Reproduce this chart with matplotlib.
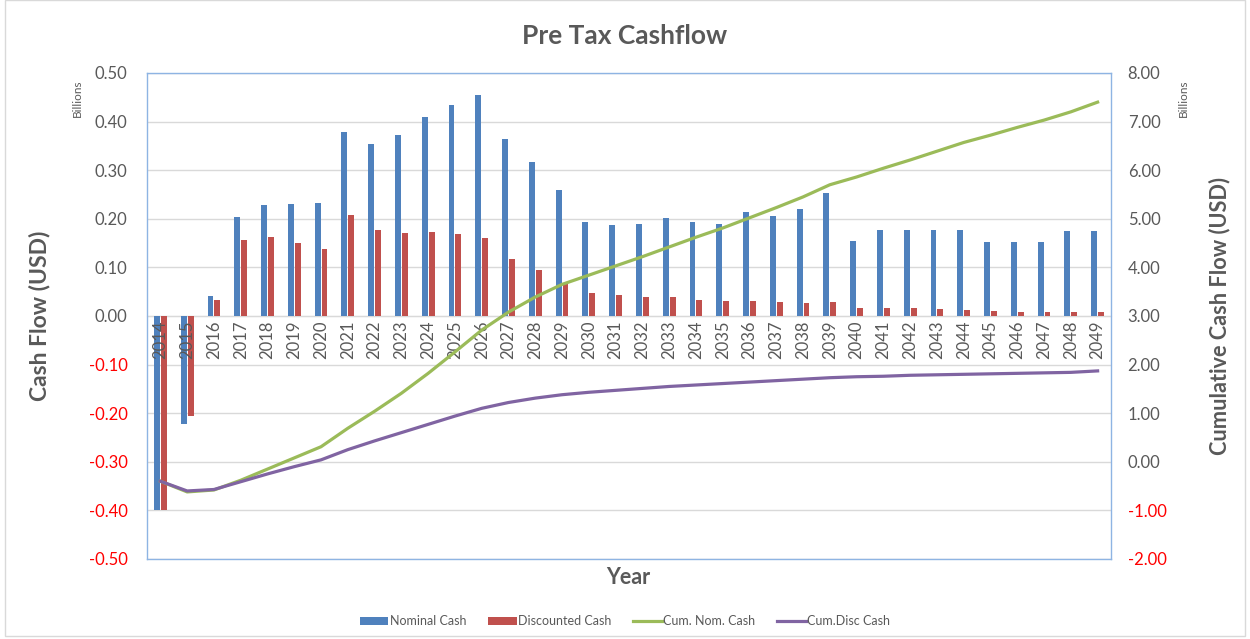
import numpy as np
import matplotlib
matplotlib.use("Agg")
import matplotlib.pyplot as plt
from matplotlib.patches import Rectangle

plt.rcParams['font.family'] = ['Lato', 'DejaVu Sans']

# data (billions USD)
years = [str(y) for y in range(2014, 2050)]
nominal = [-0.40, -0.222, 0.041, 0.204, 0.228, 0.230, 0.232, 0.379, 0.354, 0.372,
           0.409, 0.434, 0.455, 0.364, 0.317, 0.259, 0.193, 0.187, 0.189, 0.202,
           0.193, 0.189, 0.214, 0.206, 0.220, 0.253, 0.154, 0.177, 0.177, 0.177,
           0.177, 0.152, 0.152, 0.152, 0.175, 0.175]
discounted = [-0.40, -0.205, 0.033, 0.156, 0.163, 0.150, 0.138, 0.208, 0.177, 0.171,
              0.173, 0.169, 0.160, 0.117, 0.095, 0.068, 0.047, 0.043, 0.039, 0.039,
              0.033, 0.031, 0.031, 0.029, 0.027, 0.029, 0.016, 0.016, 0.016, 0.014,
              0.012, 0.010, 0.008, 0.008, 0.008, 0.008]
cum_nom = [-0.40, -0.62, -0.58, -0.38, -0.15, 0.08, 0.31, 0.69, 1.04, 1.41,
           1.82, 2.26, 2.71, 3.08, 3.39, 3.65, 3.84, 4.03, 4.22, 4.42,
           4.62, 4.81, 5.02, 5.23, 5.45, 5.70, 5.86, 6.04, 6.21, 6.39,
           6.57, 6.72, 6.88, 7.03, 7.20, 7.40]
cum_disc = [-0.40, -0.60, -0.57, -0.41, -0.25, -0.10, 0.04, 0.25, 0.43, 0.60,
            0.77, 0.94, 1.10, 1.22, 1.31, 1.38, 1.43, 1.47, 1.51, 1.55,
            1.58, 1.61, 1.64, 1.67, 1.70, 1.73, 1.75, 1.76, 1.78, 1.79,
            1.80, 1.81, 1.82, 1.83, 1.84, 1.87]
left_ticks = [-0.5, -0.4, -0.3, -0.2, -0.1, 0.0, 0.1, 0.2, 0.3, 0.4, 0.5]
right_ticks = [-2, -1, 0, 1, 2, 3, 4, 5, 6, 7, 8]

grey = '#595959'
blue, red, green, purple = '#4F81BD', '#C0504D', '#9BBB59', '#8064A2'
frame = '#8EB4E3'

fig = plt.figure(figsize=(12.5, 6.39), dpi=100)
fig.patches.append(Rectangle((0.004, 0.004), 0.992, 0.996, transform=fig.transFigure,
                             fill=False, edgecolor='#D9D9D9', lw=1))
ax = fig.add_axes([0.1176, 0.1252, 0.7712, 0.7606])
x = np.arange(len(years))
w = 0.22
ax.bar(x - 0.13, nominal, w, color=blue, label='Nominal Cash', zorder=2)
ax.bar(x + 0.13, discounted, w, color=red, label='Discounted Cash', zorder=2)
ax.set_xlim(-0.5, len(years) - 0.5)
ax.set_ylim(-0.5, 0.5)
ax.set_yticks(left_ticks)
ax.set_yticklabels(['%.2f' % v for v in left_ticks])
ax.grid(axis='y', color='#D9D9D9', lw=1, zorder=0)
ax.set_axisbelow(True)
ax.xaxis.set_zorder(4)  # year labels sit on top of the bars
ax.set_xticks(x)
ax.set_xticklabels(years)
ax.spines['bottom'].set_position(('data', 0))
ax.spines['bottom'].set_color('#D9D9D9')
ax.spines['bottom'].set_zorder(1)
for s in ['top', 'left', 'right']:
    ax.spines[s].set_visible(False)
ax.tick_params(axis='x', length=0, pad=3, labelsize=12, labelcolor=grey,
               labelrotation=90)
ax.tick_params(axis='y', length=0, pad=14, labelsize=12, labelcolor=grey)
for t, v in zip(ax.get_yticklabels(), left_ticks):
    if v < 0:
        t.set_color('red')

ax2 = ax.twinx()
ax2.plot(x, cum_nom, color=green, lw=2.3, label='Cum. Nom. Cash', zorder=3)
ax2.plot(x, cum_disc, color=purple, lw=2.3, label='Cum.Disc Cash', zorder=3)
ax2.set_ylim(-2, 8)
ax2.set_yticks(right_ticks)
ax2.set_yticklabels(['%.2f' % v for v in right_ticks])
ax2.tick_params(axis='y', length=0, pad=12, labelsize=12, labelcolor=grey)
for t, v in zip(ax2.get_yticklabels(), right_ticks):
    if v < 0:
        t.set_color('red')
for s in ax2.spines.values():
    s.set_color(frame)
    s.set_linewidth(1)

fig.text(0.5, 1 - 36 / 639, 'Pre Tax Cashflow', ha='center', va='center',
         fontsize=19, fontweight='bold', color=grey)
fig.text(40 / 1250, 1 - 316 / 639, 'Cash Flow (USD)', rotation=90, ha='center',
         va='center', fontsize=16.5, fontweight='bold', color=grey)
fig.text(1220 / 1250, 1 - 316 / 639, 'Cumulative Cash Flow (USD)', rotation=90,
         ha='center', va='center', fontsize=15.7, fontweight='bold', color=grey)
fig.text(628 / 1250, 1 - 578 / 639, 'Year', ha='center', va='center',
         fontsize=15.5, fontweight='bold', color=grey)
fig.text(77 / 1250, 1 - 98 / 639, 'Billions', rotation=90, ha='center',
         va='center', fontsize=8.5, color=grey)
fig.text(1183 / 1250, 1 - 98 / 639, 'Billions', rotation=90, ha='center',
         va='center', fontsize=8.5, color=grey)

h1, l1 = ax.get_legend_handles_labels()
h2, l2 = ax2.get_legend_handles_labels()
fig.legend(h1 + h2, l1 + l2, loc='center', bbox_to_anchor=(0.5, 1 - 621 / 639),
           ncol=4, frameon=False, fontsize=9, labelcolor=grey,
           handlelength=2.3, handleheight=0.6, columnspacing=1.75, handletextpad=0.1)

fig.savefig('out.png', dpi=100)
